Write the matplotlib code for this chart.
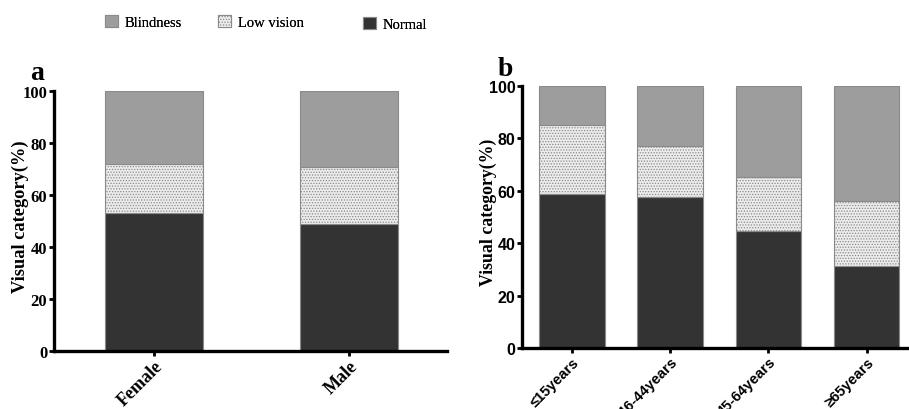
import matplotlib
matplotlib.use("Agg")
import matplotlib.pyplot as plt
import numpy as np

sex_labels = ["Female", "Male"]
sex_normal = [53.2, 48.8]
sex_low = [18.7, 22.1]
sex_blind = [28.1, 29.1]

age_labels = ["≤15years", "16-44years", "45-64years", "≥65years"]
age_normal = [58.8, 57.7, 44.8, 31.4]
age_low = [26.3, 19.5, 20.4, 24.6]
age_blind = [14.9, 22.8, 34.8, 44.0]

series_names = ["Blindness", "Low vision", "Normal"]
c_blind = "#9d9d9d"
c_low = "#ececec"
c_norm = "#333333"
c_edge = "#8a8a8a"

serif = ["Liberation Serif", "DejaVu Serif"]
sans = ["Liberation Sans", "DejaVu Sans"]

plt.rcParams["hatch.color"] = "#a8a8a8"
plt.rcParams["hatch.linewidth"] = 0.6

fig = plt.figure(figsize=(9.09, 4.10), dpi=100)

def draw(ax, labels, normal, low, blind, width, tickfont, ytsize, xtsize, ylsize, ylx):
    x = np.arange(len(labels))
    normal = np.array(normal); low = np.array(low); blind = np.array(blind)
    b1 = ax.bar(x, normal, width, color=c_norm, edgecolor=c_edge, linewidth=0.8)
    b2 = ax.bar(x, low, width, bottom=normal, color=c_low, edgecolor=c_edge,
                linewidth=0.8, hatch="......")
    b3 = ax.bar(x, blind, width, bottom=normal + low, color=c_blind,
                edgecolor=c_edge, linewidth=0.8)
    for sp in ["top", "right"]:
        ax.spines[sp].set_visible(False)
    for sp in ["left", "bottom"]:
        ax.spines[sp].set_linewidth(2.4)
    ax.set_ylim(0, 100)
    ax.set_yticks([0, 20, 40, 60, 80, 100])
    ax.tick_params(axis="both", width=2.0, length=3.5, pad=1)
    ax.set_xticks(x)
    ax.set_xticklabels(labels, rotation=45, ha="right", rotation_mode="anchor",
                       family=tickfont, fontweight="bold", fontsize=xtsize)
    for t in ax.get_yticklabels():
        t.set_family(tickfont); t.set_fontweight("bold"); t.set_fontsize(ytsize)
    ax.set_ylabel("Visual category(%)", family=serif, fontweight="bold",
                  fontsize=ylsize)
    ax.yaxis.set_label_coords(ylx, 0.52)
    return b1, b2, b3

ax1 = fig.add_axes([0.0589, 0.1422, 0.4328, 0.6327])
b1, b2, b3 = draw(ax1, sex_labels, sex_normal, sex_low, sex_blind, 0.5, serif,
                  12, 13, 13.2, -0.062)
ax1.set_xlim(-0.512, 1.5)

ax2 = fig.add_axes([0.574, 0.148, 0.426, 0.640])
draw(ax2, age_labels, age_normal, age_low, age_blind, 0.665, sans,
     11.5, 10.5, 12.8, -0.064)
ax2.set_xlim(-0.51, 3.43)

fig.text(0.033, 0.805, "a", family=serif, fontweight="bold", fontsize=20)
fig.text(0.547, 0.815, "b", family=serif, fontweight="bold", fontsize=20)

handles = [b3, b2, b1]
positions = [(0.1155, 0.945), (0.240, 0.945), (0.3993, 0.938)]
for h, name, pos in zip(handles, series_names, positions):
    leg = fig.legend([h], [name], loc="center left", bbox_to_anchor=pos,
                     frameon=False, prop={"family": serif, "size": 10.5},
                     handlelength=0.9, handleheight=0.9, handletextpad=0.45,
                     borderaxespad=0, borderpad=0)
    fig.add_artist(leg)

fig.savefig("out.png", dpi=100)
